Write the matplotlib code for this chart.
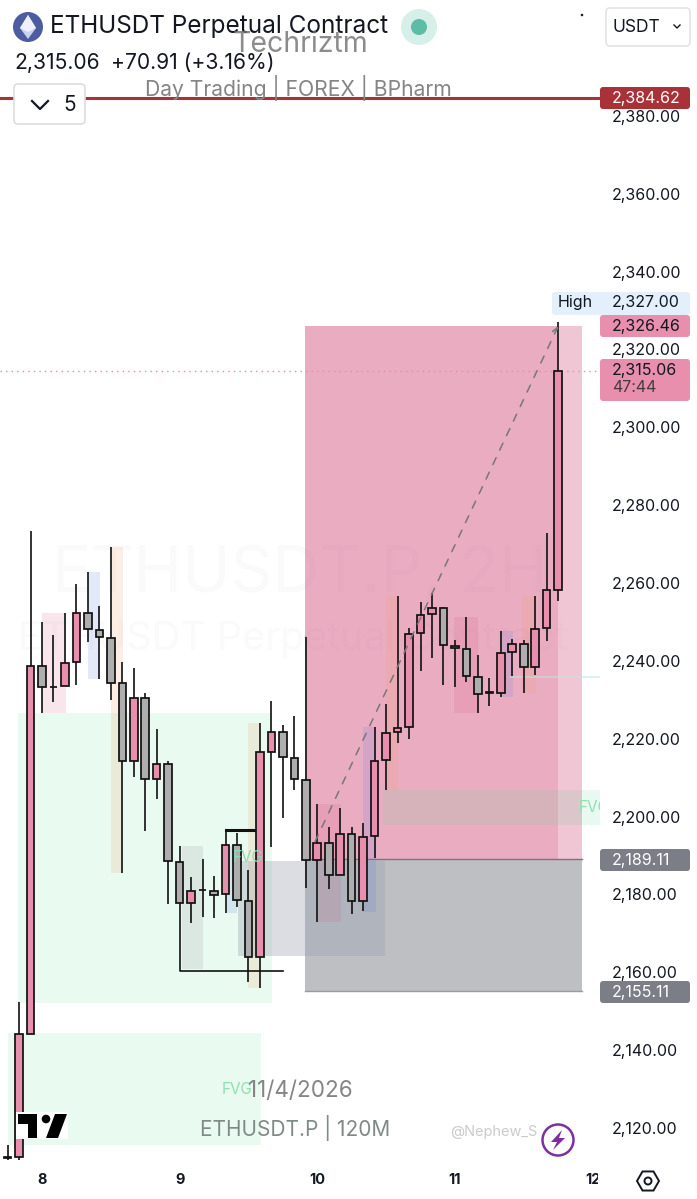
import numpy as np
import matplotlib
matplotlib.use('Agg')
import matplotlib.pyplot as plt
from matplotlib.patches import Rectangle, FancyBboxPatch, Circle, Polygon, RegularPolygon
from matplotlib.ticker import FuncFormatter
from matplotlib.transforms import Bbox

plt.rcParams['font.family'] = ['Inter', 'DejaVu Sans']

W, H = 697, 1199

# 2h candles, index 0 = midnight of the 8th
candle_idx = list(range(-3, 46))
opens = [2112.2, 2112.5, 2144.1, 2238.7, 2233.2, 2233.5, 2239.7, 2252.3, 2248.0, 2245.9,
         2234.3, 2214.3, 2230.5, 2209.6, 2213.5, 2188.3, 2177.8, 2181.0, 2180.9, 2180.1,
         2192.7, 2178.3, 2163.9, 2216.6, 2221.7, 2215.0, 2209.4, 2188.8, 2193.2, 2185.0,
         2195.5, 2178.3, 2195.0, 2214.5, 2221.7, 2223.0, 2247.2, 2252.0, 2253.6, 2243.8,
         2243.0, 2235.9, 2231.8, 2231.7, 2242.3, 2244.3, 2238.4, 2248.4, 2258.2]
closes = [2112.4, 2144.1, 2238.7, 2233.3, 2233.4, 2239.5, 2252.3, 2248.2, 2246.1, 2234.3,
          2214.3, 2230.5, 2209.6, 2213.5, 2188.6, 2177.8, 2180.9, 2181.2, 2179.8, 2192.7,
          2178.6, 2163.9, 2216.6, 2221.7, 2215.3, 2209.6, 2188.8, 2193.2, 2185.0, 2195.5,
          2178.3, 2194.7, 2214.3, 2221.5, 2222.8, 2246.9, 2251.8, 2253.6, 2244.1, 2243.4,
          2236.1, 2231.5, 2232.0, 2242.0, 2244.3, 2238.4, 2248.2, 2258.2, 2314.5]
highs = [2115.6, 2152.4, 2273.4, 2250.0, 2246.6, 2252.3, 2259.8, 2262.8, 2254.1, 2269.3,
         2239.7, 2238.2, 2231.7, 2222.5, 2214.3, 2192.4, 2184.5, 2189.1, 2184.7, 2196.5,
         2195.8, 2186.3, 2224.0, 2229.7, 2223.5, 2225.8, 2246.1, 2203.2, 2197.3, 2202.2,
         2197.3, 2198.3, 2223.0, 2228.9, 2256.7, 2248.4, 2255.1, 2257.4, 2253.8, 2245.4,
         2251.3, 2241.5, 2235.6, 2247.7, 2245.6, 2245.4, 2256.7, 2272.9, 2327.0]
lows = [2110.0, 2111.0, 2144.1, 2226.6, 2229.4, 2233.5, 2233.8, 2244.8, 2235.3, 2229.9,
        2185.5, 2210.2, 2196.3, 2204.5, 2177.5, 2177.8, 2172.6, 2174.2, 2173.9, 2175.2,
        2176.8, 2157.5, 2155.9, 2192.2, 2199.6, 2206.8, 2181.6, 2172.9, 2181.4, 2185.0,
        2175.0, 2175.7, 2189.4, 2206.8, 2218.9, 2219.9, 2237.4, 2240.7, 2233.8, 2233.3,
        2234.6, 2226.6, 2228.4, 2230.7, 2236.1, 2231.7, 2236.4, 2245.1, 2255.4]

y_ticks = list(range(2120, 2381, 20))
x_tick_pos = [0, 12, 24, 36, 48]
x_tick_labels = ['8', '9', '10', '11', '12']

# zones: left, right, top, bottom
fvg_zones = [(-2.09, 20.05, 2226.6, 2152.1), (-2.96, 19.1, 2144.4, 2115.6)]
pink_zones = [(0, 2.1, 2252.3, 2226.6), (35.9, 38, 2251.3, 2226.6), (24.06, 26.07, 2203.2, 2172.9)]
blue_zones = [(4, 5.06, 2262.8, 2235.3), (16.13, 17, 2192.4, 2175.2), (28, 29.1, 2223, 2175.5), (40.1, 41.06, 2247.7, 2230.7)]
orange_zones = [(6, 7.06, 2269.3, 2185.5), (17.96, 19, 2224, 2156), (30, 31.04, 2256.7, 2206.8), (41.85, 43.07, 2256.7, 2231.8)]
grey_zones = [(12.17, 14.04, 2192.4, 2160.8)]
light_grey_box = (17.09, 29.9, 2188.6, 2164.2)
right_fvg = (29.73, 49, 2206.8, 2197.8)

entry_price = 2189.11
stop_price = 2155.11
target_price = 2326.46
last_price = 2315.06
alert_price = 2384.62
box_top = 2326.0
box_left, box_mid, box_right = 22.93, 45, 47.08


def py(price):
    return 116 + (2380 - price) * 3.892


fig = plt.figure(figsize=(W / 100, H / 100), dpi=100, facecolor='white')
ax = fig.add_axes([0, 39 / H, 600 / W, 1160 / H])
ax.set_xlim(-42 / 11.47, 558 / 11.47)
ax.set_ylim(2111.75, 2409.8)
for s in ax.spines.values():
    s.set_visible(False)


def zone(z, color, alpha, zo=1):
    ax.add_patch(Rectangle((z[0], z[3]), z[1] - z[0], z[2] - z[3], fc=color, ec='none', alpha=alpha, zorder=zo))


# faint symbol watermark
ax.text(0.9, 2262, 'ETHUSDT.P, 2H', fontsize=47, color='#fafafa', va='center', zorder=0)
ax.text(-2.1, 2245.5, 'ETHUSDT Perpetual Contract', fontsize=28.5, color='#fafafa', va='center', zorder=0)

for z in fvg_zones:
    zone(z, '#2ed47a', 0.1)
zone((box_left, box_mid, box_top, entry_price), '#d65a85', 0.5, 1.2)
zone((box_mid, box_right, box_top, entry_price), '#d65a85', 0.35, 1.2)
zone((box_left, box_right, entry_price, stop_price), '#7d8088', 0.5, 1.2)
ax.plot([box_left, box_right], [entry_price, entry_price], color='#77777f', lw=1, zorder=1.3)
ax.plot([box_left, box_right], [stop_price, stop_price], color='#9a9aa2', lw=1, zorder=1.3)
zone(light_grey_box, '#9aa0b0', 0.35, 1.4)
zone(right_fvg, '#64d79b', 0.15, 1.4)
for z in pink_zones:
    zone(z, '#d65a85', 0.15, 1.5)
for z in blue_zones:
    zone(z, '#5b7be0', 0.16, 1.5)
for z in orange_zones:
    zone(z, '#f39c66', 0.17, 1.5)
for z in grey_zones:
    zone(z, '#9a9a9a', 0.18, 1.5)

ax.plot([40.8, 49], [2235.9, 2235.9], color='#bfe6d8', lw=1.2, alpha=0.6, zorder=1.6)
ax.text(46.8, 2202.3, 'FVG', fontsize=11, color='#8fe0b0', va='center', zorder=1.7, clip_on=True)
ax.text(16.6, 2189.6, 'FVG', fontsize=11, color='#8fdcb0', va='center', zorder=3.6)

# structure lines
ax.plot([16, 19], [2196.5, 2196.5], color='#111111', lw=2.2, zorder=2.5)
ax.plot([12, 12, 21], [2177.8, 2160.4, 2160.4], color='#111111', lw=1.2, zorder=2.5)
ax.axhline(last_price - 0.5, color='#e58aa8', lw=1, ls=(0, (1, 3)), zorder=1.8)
ax.axhline(alert_price, color='#a83238', lw=2.2, zorder=2.8)

# candles
xs = np.array(candle_idx)
o, c, h, l = map(np.array, (opens, closes, highs, lows))
ax.vlines(xs, l, h, color='#111111', lw=1.2, zorder=3)
body_col = ['#e78fac' if b >= a else '#aeaeae' for a, b in zip(o, c)]
ax.bar(xs, np.abs(c - o), bottom=np.minimum(o, c), width=0.66, color=body_col,
       edgecolor='#111111', linewidth=1.25, zorder=3.2)

# dashed move arrow
ax.annotate('', xy=(45, box_top), xytext=(23.8, 2193.5),
            arrowprops=dict(arrowstyle='->', color='#77767c', lw=1.1, ls=(0, (5, 5.5)), shrinkA=0, shrinkB=0),
            zorder=3.4)

ax.yaxis.tick_right()
ax.set_yticks(y_ticks)
ax.yaxis.set_major_formatter(FuncFormatter(lambda v, p: f'{v:,.2f}'))
ax.tick_params(axis='y', length=0, pad=8.6, labelsize=11.5, labelcolor='#131722')
ax.set_xticks(x_tick_pos)
ax.set_xticklabels(x_tick_labels, fontweight='bold', fontsize=10.5, color='#131722')
ax.tick_params(axis='x', length=0, pad=9)
for lab in ax.get_xticklabels():
    lab.set_clip_box(Bbox([[0, 0], [598, H]]))
    lab.set_clip_on(True)

# screen furniture in pixel coordinates
ov = fig.add_axes([0, 0, 1, 1], facecolor='none')
ov.set_xlim(0, W)
ov.set_ylim(H, 0)
ov.axis('off')


def label(x, y, s, **kw):
    kw.setdefault('va', 'center')
    kw.setdefault('color', '#131722')
    return ov.text(x, y, s, **kw)


def price_box(top, bottom, color, x0=600, x1=690):
    ov.add_patch(FancyBboxPatch((x0, top), x1 - x0, bottom - top, boxstyle='round,pad=0,rounding_size=3',
                                fc=color, ec='none', zorder=4))


# coin icon
ov.add_patch(Circle((28, 27), 15, fc='#4d5c9f', ec='none'))
ov.add_patch(Polygon([(28, 15), (36, 28), (28, 39), (20, 28)], fc='#c9d2f2', ec='none'))
ov.add_patch(Polygon([(28, 15), (36, 28), (28, 32), (20, 28)], fc='#eef1fb', ec='none'))
label(50, 27, 'ETHUSDT Perpetual Contract', fontsize=17.5)
ov.add_patch(Circle((419, 27), 18, fc='#d6efe9', ec='none'))
ov.add_patch(Circle((419, 27), 8, fc='#5dbba6', ec='none'))
label(14, 63, '2,315.06', fontsize=15.2)
label(111, 63, '+70.91 (+3.16%)', fontsize=15.2)
label(233, 44, 'Techriztm', fontsize=20.5, color='#6f6f6f', alpha=0.8)
label(145, 88, 'Day Trading | FOREX | BPharm', fontsize=15.2, color='#858585')

ov.add_patch(FancyBboxPatch((14, 84), 71, 40, boxstyle='round,pad=0,rounding_size=4', fc='white', ec='#dddddd', lw=1.2, zorder=3))
ov.plot([32, 40, 48], [101, 109, 101], color='#131722', lw=1.6, zorder=5)
label(70, 105, '5', fontsize=15, ha='center', zorder=5)
ov.add_patch(FancyBboxPatch((606, 8), 84, 38, boxstyle='round,pad=0,rounding_size=4', fc='white', ec='#e4e4e4', lw=1.2))
label(612, 27, 'USDT', fontsize=12.5)
ov.plot([674, 677, 680], [25, 28, 25], color='#131722', lw=1)
ov.add_patch(Circle((582, 15), 1.3, fc='#222222', ec='none'))

# price labels
price_box(py(alert_price) - 11, py(alert_price) + 11, '#a83238')
label(612, py(alert_price), f'{alert_price:,.2f}', fontsize=11.5, color='white', zorder=5)
price_box(292, 315, '#e3effb', x0=552, x1=690)
label(558, 303, 'High', fontsize=11.5, zorder=5)
label(612, 303, '2,327.00', fontsize=11.5, zorder=5)
price_box(315, 337, '#e78fac')
label(612, 326, f'{target_price:,.2f}', fontsize=11.5, zorder=5)
price_box(359, 401, '#e78fac')
label(612, 370, f'{last_price:,.2f}', fontsize=11.5, zorder=5)
label(612, 388, '47:44', fontsize=11.5, color='#4a3a40', zorder=5)
price_box(849, 871, '#7b7e87')
label(612, 860, f'{entry_price:,.2f}', fontsize=11.5, color='white', zorder=5)
price_box(981, 1003, '#7b7e87')
label(612, 992, f'{stop_price:,.2f}', fontsize=11.5, color='white', zorder=5)

# bottom watermarks
label(222, 1090, 'FVG', fontsize=11, color='#8fe0b0')
label(248, 1091, '11/4/2026', fontsize=16.2, color='#858585')
label(200, 1128, 'ETHUSDT.P | 120M', fontsize=15, color='#7f8a85')
label(450, 1132, '@Nephew_S', fontsize=10.5, color='#cbcbcb')

# tradingview logo
ov.add_patch(Rectangle((16, 1112), 52, 27, fc='white', ec='none', zorder=4))
ov.add_patch(Polygon([(18, 1114), (37, 1114), (37, 1138), (28, 1138), (28, 1124), (18, 1124)], fc='#000000', ec='none', zorder=5))
ov.add_patch(Circle((46, 1119), 4.3, fc='#000000', ec='none', zorder=5))
ov.add_patch(Polygon([(55, 1114), (67, 1114), (58, 1138), (46, 1138)], fc='#000000', ec='none', zorder=5))

# bolt badge
ov.add_patch(Circle((558, 1140), 15.5, fc='white', ec='#7d2fa0', lw=1.8, zorder=5))
ov.add_patch(Polygon([(562, 1130), (551, 1142), (557, 1142), (553, 1150), (565, 1138), (559, 1138)], fc='#7d2fa0', ec='none', zorder=6))

# settings hexagon
ov.add_patch(RegularPolygon((648, 1181), 6, radius=11, orientation=np.pi / 2, fc='white', ec='#131722', lw=1.4))
ov.add_patch(Circle((648, 1181), 3.5, fc='white', ec='#131722', lw=1.4))

plt.savefig('out.png', dpi=100)
